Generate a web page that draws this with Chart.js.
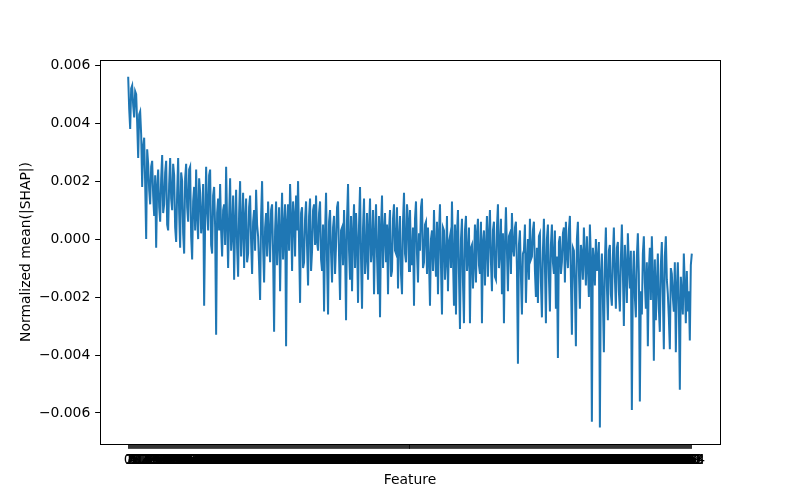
<!DOCTYPE html>
<html>
<head>
<meta charset="utf-8">
<script src="https://cdn.jsdelivr.net/npm/chart.js@4.4.1/dist/chart.umd.min.js"></script>
<style>
  html, body { margin: 0; padding: 0; background: #ffffff; }
  #wrap { width: 800px; height: 500px; }
</style>
</head>
<body>
<div id="wrap"><canvas id="c" width="800" height="500"></canvas></div>
<script>
// Normalized mean(|SHAP|) per feature (left to right)
const shapValues = [
  // section A
  0.0056, 0.0045, 0.0038, 0.0052, 0.0053, 0.0046, 0.0042, 0.0051, 0.0050, 0.0040,
  0.0028, 0.0043, 0.0044, 0.0036, 0.0018, 0.0032, 0.0035, 0.0019, 0.0000, 0.0031,
  0.0026, 0.0017, 0.0012, 0.0025, 0.0027, 0.0015, 0.0008, 0.0022, -0.0003, 0.0018,
  0.0024, 0.0011, 0.0006, 0.0021, 0.0029, 0.0009, 0.0012, 0.0023, 0.0027, 0.0005,
  0.0003, 0.0019, 0.0028, 0.0014, 0.0010, 0.0026, 0.0022, 0.0004, -0.0001, 0.0016,
  0.0028, 0.0009, -0.0003, 0.0023, 0.0020, 0.0002, -0.0005, 0.0021, 0.0026, 0.0011,
  0.0006, 0.0024, 0.0025, 0.0001, -0.0007, 0.0013, 0.0018, 0.0003, 0.0024, 0.0008,
  0.0000, 0.0021, 0.0016, 0.0002, 0.0007, 0.0019, -0.0023, 0.0006, 0.0025, 0.0010,
  0.0003, 0.0022, 0.0024, -0.0002, -0.0005, 0.0015, 0.0018, 0.0004, -0.0033, 0.0009,
  0.0014, 0.0003,
  // section B
  0.0019, 0.0003, -0.0006, 0.0010, 0.0012, -0.0002, 0.0025, 0.0006, -0.0010, 0.0008,
  0.0021, -0.0004, 0.0002, 0.0015, -0.0014, 0.0005, 0.0017, -0.0003, -0.0013, 0.0009,
  0.0020, -0.0006, 0.0004, 0.0016, -0.0010, 0.0007, 0.0014, -0.0008, -0.0005, 0.0011,
  0.0015, -0.0001, -0.0012, 0.0006, 0.0010, -0.0004, 0.0017, 0.0005, 0.0001, -0.0009,
  -0.0021, 0.0008, 0.0020, -0.0003, -0.0015, 0.0004, 0.0009, -0.0006, 0.0013, 0.0002,
  -0.0008, 0.0010, 0.0012, -0.0005, -0.0032, 0.0003, 0.0013, -0.0009, 0.0001, 0.0011,
  -0.0018, 0.0002, 0.0016, -0.0007, 0.0004, 0.0012, -0.0037, 0.0006, 0.0012, -0.0004,
  0.0019, 0.0007, -0.0011, 0.0013, 0.0008, -0.0006, 0.0015, 0.0003, 0.0020, -0.0002,
  -0.0022, 0.0009, 0.0011, -0.0010, -0.0008, 0.0007, 0.0013, -0.0003, -0.0016, 0.0008,
  0.0014, -0.0011, -0.0004, 0.0010, 0.0012, -0.0002,
  // section C
  0.0015, -0.0001, -0.0004, 0.0009, 0.0013, -0.0007, -0.0011, 0.0005, -0.0025, 0.0002,
  0.0016, -0.0008, -0.0026, 0.0006, 0.0010, -0.0005, -0.0015, 0.0004, 0.0008, -0.0012,
  -0.0002, 0.0011, 0.0013, -0.0006, -0.0021, 0.0003, 0.0004, -0.0009, 0.0010, -0.0003,
  -0.0028, 0.0007, 0.0019, -0.0004, -0.0014, 0.0008, -0.0018, 0.0002, 0.0012, -0.0010,
  0.0009, -0.0001, -0.0022, 0.0005, 0.0018, -0.0007, -0.0024, 0.0004, 0.0014, -0.0012,
  -0.0006, 0.0009, -0.0014, 0.0003, 0.0014, -0.0008, -0.0003, 0.0010, -0.0019, 0.0001,
  0.0012, -0.0006, -0.0019, 0.0008, -0.0027, 0.0004, 0.0015, -0.0010, 0.0002, 0.0009,
  -0.0008, 0.0005, -0.0019, 0.0003, 0.0010, -0.0013, -0.0011, 0.0007, 0.0012, -0.0004,
  -0.0005, 0.0011, -0.0017, 0.0000, 0.0008, -0.0012, -0.0019, 0.0006, 0.0016, -0.0005,
  -0.0008, 0.0012, 0.0007, -0.0011,
  // section D
  0.0010, -0.0006, -0.0009, 0.0004, -0.0023, 0.0007, 0.0013, -0.0005, -0.0015, 0.0002,
  -0.0004, 0.0011, 0.0014, -0.0010, -0.0008, 0.0005, 0.0006, -0.0012, 0.0004, -0.0007,
  -0.0023, 0.0000, 0.0003, -0.0011, 0.0010, -0.0004, -0.0013, 0.0006, -0.0019, 0.0002,
  0.0012, -0.0009, -0.0026, 0.0004, 0.0003, -0.0014, -0.0007, 0.0008, -0.0018, -0.0001,
  0.0001, -0.0010, 0.0013, -0.0006, -0.0023, 0.0005, -0.0026, 0.0002, 0.0010, -0.0012,
  -0.0031, 0.0000, 0.0007, -0.0015, -0.0029, 0.0003, 0.0008, -0.0011, -0.0006, 0.0004,
  -0.0029, -0.0003, -0.0002, -0.0017, -0.0008, 0.0005, -0.0015, 0.0002, 0.0007, -0.0009,
  -0.0012, 0.0006, -0.0029, -0.0001, 0.0003, -0.0016, -0.0003, 0.0008, -0.0013, 0.0001,
  0.0010, -0.0008, -0.0018, 0.0003, 0.0006, -0.0013, -0.0014, 0.0004, 0.0012, -0.0010,
  -0.0004, 0.0007, -0.0019, 0.0002, -0.0029, -0.0002,
  // section E
  0.0011, -0.0004, -0.0018, 0.0001, 0.0002, -0.0012, 0.0009, -0.0003, -0.0006, 0.0004,
  0.0006, -0.0010, -0.0043, -0.0002, 0.0003, -0.0013, -0.0026, -0.0005, -0.0004, 0.0005,
  -0.0022, -0.0008, 0.0000, -0.0014, 0.0007, -0.0007, -0.0006, 0.0003, 0.0006, -0.0011,
  -0.0020, -0.0003, -0.0022, 0.0001, 0.0002, -0.0015, -0.0027, -0.0004, 0.0007, -0.0009,
  -0.0029, 0.0000, 0.0005, -0.0013, -0.0025, -0.0002, 0.0005, -0.0008, -0.0012, 0.0003,
  -0.0024, -0.0006, -0.0041, -0.0001, 0.0001, -0.0012, -0.0008, 0.0002, 0.0004, -0.0015,
  0.0006, -0.0005, -0.0010, 0.0003, 0.0008, -0.0014, -0.0033, -0.0003, -0.0004, -0.0017,
  -0.0037, 0.0000, 0.0006, -0.0011, -0.0024, -0.0002, -0.0005, -0.0014, 0.0004, -0.0006,
  -0.0016, 0.0001, -0.0009, -0.0020, 0.0005, -0.0007, -0.0063, -0.0003, -0.0007, -0.0016,
  0.0000, -0.0011, -0.0008, -0.0001,
  // section F
  -0.0065, -0.0012, -0.0005, -0.0021, -0.0039, -0.0008, 0.0004, -0.0016, -0.0028, -0.0004,
  -0.0002, -0.0019, -0.0023, -0.0006, 0.0004, -0.0013, -0.0024, -0.0003, -0.0001, -0.0018,
  -0.0025, -0.0007, 0.0005, -0.0011, -0.0030, -0.0002, -0.0010, -0.0022, 0.0002, -0.0009,
  -0.0017, -0.0004, -0.0059, -0.0014, -0.0004, -0.0020, -0.0027, -0.0006, 0.0002, -0.0012,
  -0.0056, -0.0018, -0.0026, -0.0005, 0.0001, -0.0015, -0.0024, -0.0008, -0.0037, -0.0011,
  -0.0003, -0.0021, 0.0001, -0.0013, -0.0042, -0.0007, -0.0028, -0.0016, -0.0005, -0.0024,
  -0.0032, -0.0009, -0.0001, -0.0019, -0.0038, -0.0006, 0.0001, -0.0014, -0.0019, -0.0027,
  -0.0038, -0.0010, -0.0012, -0.0020, -0.0025, -0.0008, -0.0039, -0.0017, -0.0008, -0.0023,
  -0.0052, -0.0013, -0.0019, -0.0026, -0.0005, -0.0016, -0.0029, -0.0011, -0.0025, -0.0018,
  -0.0035, -0.0009, -0.0005
];

// Feature categories (one per value) used as x tick labels
const featureIds = shapValues.map((_, i) => String(i));

// Y-axis tick values and the visible y range
const yTickValues = [-0.006, -0.004, -0.002, 0.000, 0.002, 0.004, 0.006];
const yRange = { min: -0.00707, max: 0.00618 };
// X range with matplotlib-style 5% margins around the categories
const xRange = { min: -28.2, max: 592.2 };

const FONT = { family: "'DejaVu Sans', sans-serif", size: 13.9 };
const TICK_LEN = 4.86;

const frame = {
  id: 'frame',
  afterDraw(chart) {
    const { ctx, chartArea: a } = chart;
    ctx.save();
    ctx.strokeStyle = '#000000';
    ctx.lineWidth = 1;
    ctx.strokeRect(Math.round(a.left) + 0.5, Math.round(a.top) + 0.5,
                   Math.round(a.right - a.left), Math.round(a.bottom - a.top));
    ctx.restore();
  }
};

new Chart(document.getElementById('c'), {
  type: 'line',
  data: {
    datasets: [{
      data: shapValues.map((v, i) => ({ x: i, y: v })),
      borderColor: '#1f77b4',
      borderWidth: 2,
      pointRadius: 0,
      tension: 0,
      fill: false
    }]
  },
  options: {
    responsive: false,
    animation: false,
    devicePixelRatio: 1,
    layout: { padding: { left: 0, right: 80, top: 60, bottom: 0 } },
    plugins: { legend: { display: false }, tooltip: { enabled: false } },
    scales: {
      x: {
        type: 'linear',
        min: xRange.min,
        max: xRange.max,
        afterBuildTicks: (axis) => { axis.ticks = featureIds.map((_, i) => ({ value: i })); },
        afterFit: (s) => { s.height = 56; },
        ticks: {
          autoSkip: false,
          maxRotation: 0,
          minRotation: 0,
          padding: 3.5,
          color: '#000000',
          font: FONT,
          callback: (v) => featureIds[v] ?? ''
        },
        grid: { drawOnChartArea: false, drawTicks: true, tickLength: TICK_LEN, color: '#000000', lineWidth: 0.8 },
        border: { display: true, color: '#000000', width: 1 },
        title: { display: true, text: 'Feature', color: '#000000', font: FONT, padding: { top: 0, bottom: 11.5 } }
      },
      y: {
        type: 'linear',
        min: yRange.min,
        max: yRange.max,
        afterBuildTicks: (axis) => { axis.ticks = yTickValues.map(v => ({ value: v })); },
        afterFit: (s) => { s.width = 100; },
        ticks: {
          padding: 4.86,
          color: '#000000',
          font: FONT,
          callback: (v) => Number(v).toFixed(3).replace('-', '\u2212')
        },
        grid: { drawOnChartArea: false, drawTicks: true, tickLength: TICK_LEN, color: '#000000', lineWidth: 1 },
        border: { display: true, color: '#000000', width: 1 },
        title: { display: true, text: 'Normalized mean(|SHAP|)', color: '#000000', font: FONT, padding: { top: 18, bottom: 0 } }
      }
    }
  },
  plugins: [frame]
});
</script>
</body>
</html>
